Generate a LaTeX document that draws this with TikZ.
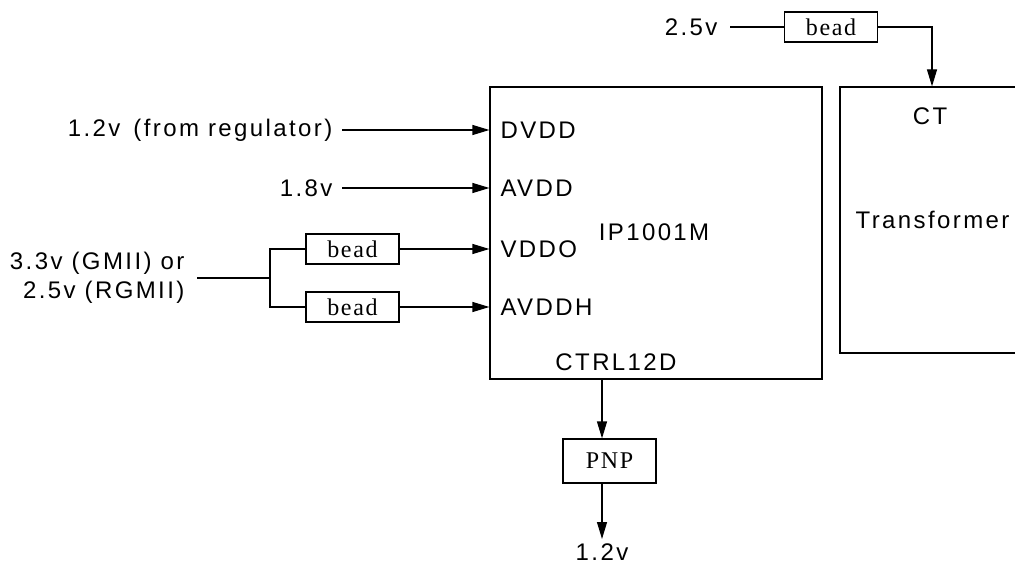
\documentclass[tikz,border=0pt]{standalone}
\usepackage{fontspec}
\setmainfont{Liberation Sans}
\newfontfamily\pinfont[LetterSpace=10]{Liberation Sans}
\newfontfamily\partfont[LetterSpace=7]{Liberation Serif}
\usetikzlibrary{positioning,arrows.meta,fit}

\begin{document}
\begin{tikzpicture}[x=0.5pt,y=-0.5pt,line width=0.6pt,
  font=\pinfont\fontsize{12}{14.5}\selectfont,
  box/.style={draw, minimum width=46.5pt, minimum height=15pt, inner sep=0pt,
    font=\partfont\fontsize{12}{14}\selectfont},
  sig/.style={-{Triangle[length=8.5pt,width=5pt]}},
  pin/.style={anchor=west, inner sep=0pt},
  src/.style={anchor=east, inner xsep=4.5pt, inner ysep=0pt}]
\useasboundingbox (0,0) rectangle (1015,566);
% chip
\node[draw, fit={(490,87) (822,379)}, inner sep=0pt] (ip) {};
\node (ipname) at (654,232) {IP1001M};
\node[pin] (dvdd) at (500,130) {DVDD};
\node[pin] (avdd) at (500,188) {AVDD};
\node[pin] (vddo) at (500,249) {VDDO};
\node[pin] (avddh) at (500,307) {AVDDH};
\node (ctrl) at (616,362) {CTRL12D};
% transformer, right side runs off the page
\begin{scope}
\clip (0,0) rectangle (1015,566);
\node[draw, fit={(840,87) (1024,353)}, inner sep=0pt] (xf) {};
\end{scope}
\node (ct) at (930,116) {CT};
\node[anchor=west, inner sep=0pt] (xfname) at (855,220) {Transformer};
% supplies
\node[src] (vreg) at (342,130) {1.2v\ \hspace{2pt}(from regulator)};
\node[src] (v18) at (342,188) {1.8v};
\node[src, align=right, inner xsep=6pt] (gmii) at (197,278) {3.3v (GMII) or\\2.5v (RGMII)};
\coordinate (br) at (270,278);
\node[box] (bd1) at (352.5,249) {bead};
\node[box] (bd2) at (352.5,307) {bead};
\draw[sig] (vreg) -- (vreg -| ip.west);
\draw[sig] (v18) -- (v18 -| ip.west);
\draw (gmii) -- (br);
\draw (bd1.west) -| (br) |- (bd2.west);
\draw[sig] (bd1) -- (bd1 -| ip.west);
\draw[sig] (bd2) -- (bd2 -| ip.west);
% CT supply
\node[src, inner xsep=6pt] (v25) at (730,27) {2.5v};
\node[box] (bd3) at (831,27) {bead};
\draw (v25) -- (bd3);
\draw[sig] (bd3.east) -| (xf.north);
% regulator transistor
\node[box, minimum height=22pt] (pnp) at (609.5,461) {PNP};
\node[anchor=north, inner xsep=0pt, inner ysep=2pt] (vout) at (602,539) {1.2v};
\draw[sig] (vout |- ip.south) -- (vout |- pnp.north);
\draw[sig] (vout |- pnp.south) -- (vout.north);
\end{tikzpicture}
\end{document}
